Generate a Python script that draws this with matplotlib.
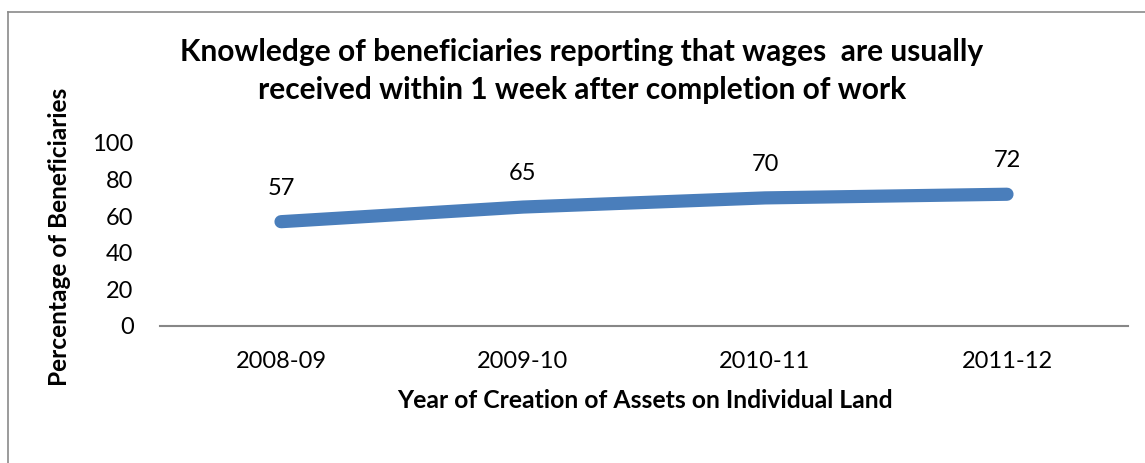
import matplotlib
matplotlib.use("Agg")
import matplotlib.pyplot as plt
from matplotlib.lines import Line2D

plt.rcParams['font.family'] = ['Lato', 'DejaVu Sans']

# data
years = ["2008-09", "2009-10", "2010-11", "2011-12"]
pct_beneficiaries = [57, 65, 70, 72]
y_ticks = [0, 20, 40, 60, 80, 100]

title_1 = "Knowledge of beneficiaries reporting that wages  are usually"
title_2 = "received within 1 week after completion of work"

W, H = 1145, 463
fig = plt.figure(figsize=(W / 100, H / 100), dpi=100)

# chart frame (excel style), only left and top edges visible
fx, fy = 8 / W, 1 - 12 / H
fig.lines.append(Line2D([fx, fx], [0, fy], transform=fig.transFigure, color='#8a8a8a', lw=1.2))
fig.lines.append(Line2D([fx, 1], [fy, fy], transform=fig.transFigure, color='#8a8a8a', lw=1.2))

ax = fig.add_axes([160 / W, 137 / H, 968 / W, 183 / H])
xs = list(range(len(years)))
ax.plot(xs, pct_beneficiaries, color='#4a7ebb', lw=9.5,
        solid_capstyle='round', solid_joinstyle='round', clip_on=False)
for x, v in zip(xs, pct_beneficiaries):
    ax.annotate(str(v), (x, v), xytext=(0, 24), textcoords='offset points',
                ha='center', va='center', fontsize=17)

ax.set_xlim(-0.5, 3.5)
ax.set_ylim(0, 100)
ax.set_xticks(xs)
ax.set_xticklabels(years)
ax.set_yticks(y_ticks)
ax.tick_params(axis='y', length=0, pad=19, labelsize=17)
ax.tick_params(axis='x', length=0, pad=18, labelsize=17)
for s in ['top', 'right', 'left']:
    ax.spines[s].set_visible(False)
ax.spines['bottom'].set_color('#878787')
ax.spines['bottom'].set_linewidth(1.5)

fig.text(582 / W, 1 - 52 / H, title_1, ha='center', va='center', fontsize=21.5, fontweight='bold')
fig.text(582 / W, 1 - 90 / H, title_2, ha='center', va='center', fontsize=21.5, fontweight='bold')
fig.text(60 / W, 1 - 237 / H, "Percentage of Beneficiaries", rotation=90,
         ha='center', va='center', fontsize=17.6, fontweight='bold')
fig.text(645 / W, 1 - 400 / H, "Year of Creation of Assets on Individual Land",
         ha='center', va='center', fontsize=17.8, fontweight='bold')

fig.savefig("out.png", dpi=100)
